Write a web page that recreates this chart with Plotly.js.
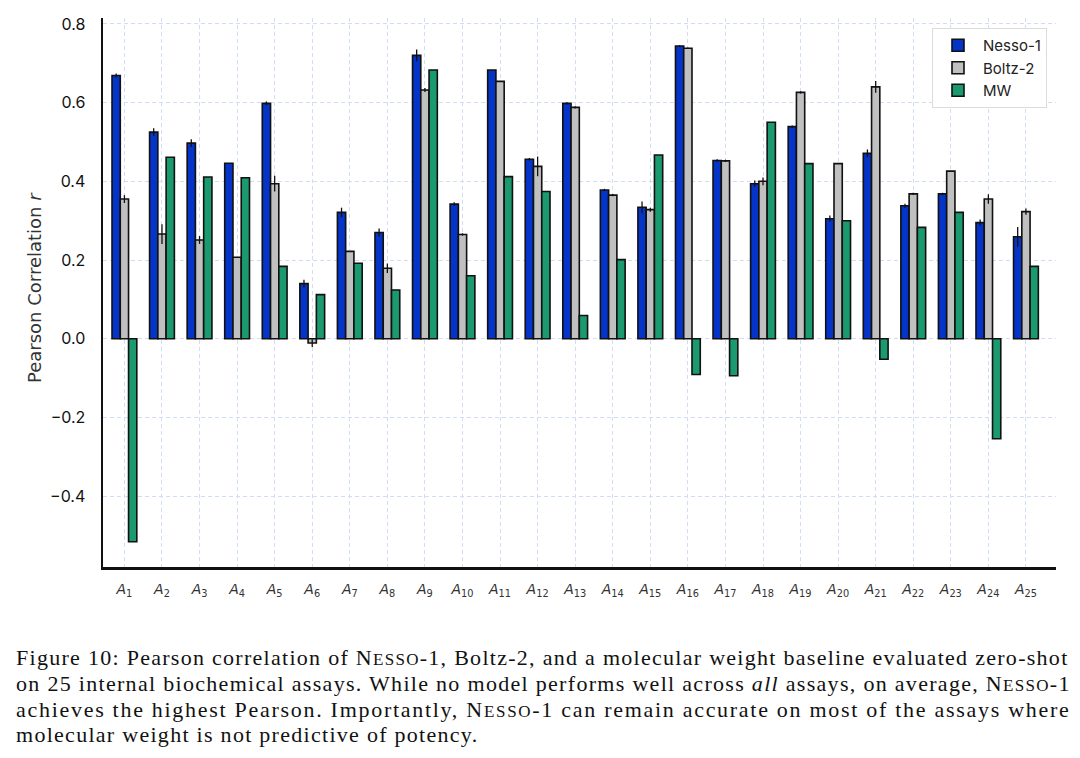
<!DOCTYPE html>
<html>
<head>
<meta charset="utf-8">
<script src="https://cdn.plot.ly/plotly-3.0.1.min.js"></script>
<style>
  body { margin: 0; background: #fff; }
  #chart { width: 1080px; height: 758px; }
</style>
</head>
<body>
<div id="chart"></div>
<script>
// assay labels A1..A25
var assays = [];
for (var i = 1; i <= 25; i++) assays.push(i);

// Pearson r per assay
var nesso = [0.669, 0.525, 0.497, 0.446, 0.598, 0.140, 0.321, 0.270, 0.720, 0.342,
             0.683, 0.456, 0.598, 0.378, 0.334, 0.744, 0.453, 0.394, 0.539, 0.305,
             0.471, 0.338, 0.368, 0.295, 0.259];
var nessoErr = [0.005, 0.010, 0.010, 0.000, 0.005, 0.010, 0.012, 0.010, 0.015, 0.005,
                0.000, 0.003, 0.003, 0.003, 0.015, 0.002, 0.003, 0.008, 0.003, 0.008,
                0.010, 0.005, 0.003, 0.008, 0.025];
var boltz = [0.355, 0.266, 0.251, 0.207, 0.394, -0.011, 0.222, 0.179, 0.632, 0.265,
             0.654, 0.438, 0.588, 0.365, 0.328, 0.738, 0.452, 0.400, 0.626, 0.445,
             0.640, 0.368, 0.426, 0.355, 0.323];
var boltzErr = [0.010, 0.025, 0.010, 0.000, 0.020, 0.010, 0.000, 0.012, 0.005, 0.003,
                0.000, 0.025, 0.003, 0.003, 0.005, 0.002, 0.003, 0.010, 0.003, 0.000,
                0.015, 0.003, 0.000, 0.012, 0.008];
var mw = [-0.516, 0.461, 0.411, 0.409, 0.184, 0.112, 0.192, 0.124, 0.683, 0.160,
          0.412, 0.374, 0.059, 0.201, 0.467, -0.091, -0.094, 0.550, 0.445, 0.300,
          -0.052, 0.283, 0.321, -0.254, 0.184];

var x = assays.map(function (a, i) { return i; });
var tickText = assays.map(function (a) { return "<i>A</i><sub>" + a + "</sub>"; });

function barTrace(name, y, err, color) {
    var t = {
        type: "bar",
        name: name,
        x: x,
        y: y,
        marker: { color: color, line: { color: "#111", width: 1.6 } },
    };
    if (err) {
        t.error_y = { type: "data", array: err, visible: true, color: "#111", thickness: 1.3, width: 0 };
    }
    return t;
}

var traces = [
    barTrace("Nesso-1", nesso, nessoErr, "#0434c8"),
    barTrace("Boltz-2", boltz, boltzErr, "#c0c0c0"),
    barTrace("MW", mw, null, "#1b9a6f"),
];

// figure caption, one annotation per line; letter spacing stretches each line to the full width
var capFont = { family: "Liberation Serif, DejaVu Serif, serif", size: 22, color: "#111" };
var sc = function (s) { return "N<span style='font-size:17px'>" + s + "</span>"; };
var caption = [
    "Figure 10: Pearson correlation of " + sc("ESSO") + "-1, Boltz-2, and a molecular weight baseline evaluated zero-shot",
    "on 25 internal biochemical assays. While no model performs well across <i>all</i> assays, on average, " + sc("ESSO") + "-1",
    "achieves the highest Pearson. Importantly, " + sc("ESSO") + "-1 can remain accurate on most of the assays where",
    "molecular weight is not predictive of potency.",
];
var capSpacing = [1.28, 1.3, 1.71, 1.28];
var capY = [657, 683, 709, 735];
var annotations = caption.map(function (line, i) {
    return {
        text: "<span style='letter-spacing:" + capSpacing[i] + "px'>" + line + "</span>",
        xref: "paper", yref: "paper",
        x: (14 - 103) / 953, y: (567 - capY[i]) / 549,
        xanchor: "left", yanchor: "middle", showarrow: false, font: capFont,
    };
});

// y axis title placed by hand
annotations.push({
    text: "Pearson Correlation <i>r</i>",
    xref: "paper", yref: "paper",
    x: (34 - 103) / 953, y: (567 - 288) / 549,
    xanchor: "center", yanchor: "middle", textangle: -90, showarrow: false,
    font: { family: "DejaVu Sans, sans-serif", size: 18, color: "#333" },
});

var layout = {
    width: 1080,
    height: 758,
    margin: { l: 103, r: 24, t: 18, b: 191 },
    paper_bgcolor: "#fff",
    plot_bgcolor: "#fff",
    barmode: "group",
    bargap: 0.34,
    bargroupgap: 0,
    font: { family: "Inter, Open Sans, sans-serif", color: "#222" },
    xaxis: {
        range: [-0.57, 24.8],
        tickmode: "array",
        tickvals: x,
        ticktext: tickText,
        tickfont: { family: "DejaVu Sans", size: 14, color: "#333" },
        ticks: "",
        ticklabelstandoff: 8,
        showgrid: true,
        gridcolor: "#d3dcf5",
        griddash: "4px,3px",
        gridwidth: 1,
        showline: true,
        linecolor: "#111",
        linewidth: 2.5,
        zeroline: false,
    },
    yaxis: {
        range: [-0.58, 0.815],
        tickvals: [-0.4, -0.2, 0, 0.2, 0.4, 0.6, 0.8],
        ticktext: ["\u22120.4", "\u22120.2", "0.0", "0.2", "0.4", "0.6", "0.8"],
        tickfont: { size: 16, color: "#111" },
        ticks: "",
        ticklabelstandoff: 12,
        showgrid: true,
        gridcolor: "#d3dcf5",
        griddash: "4px,3px",
        gridwidth: 1,
        showline: true,
        linecolor: "#111",
        linewidth: 2.5,
        zeroline: false,
    },
    legend: {
        x: (1047 - 103) / 953,
        y: (567 - 28) / 549,
        xanchor: "right",
        yanchor: "top",
        bgcolor: "#fff",
        bordercolor: "#dcdcdc",
        borderwidth: 1,
        font: { size: 15, color: "#222" },
        itemwidth: 40,
    },
    annotations: annotations,
    showlegend: true,
};

Plotly.newPlot("chart", traces, layout, { displayModeBar: false, staticPlot: true });
</script>
</body>
</html>
